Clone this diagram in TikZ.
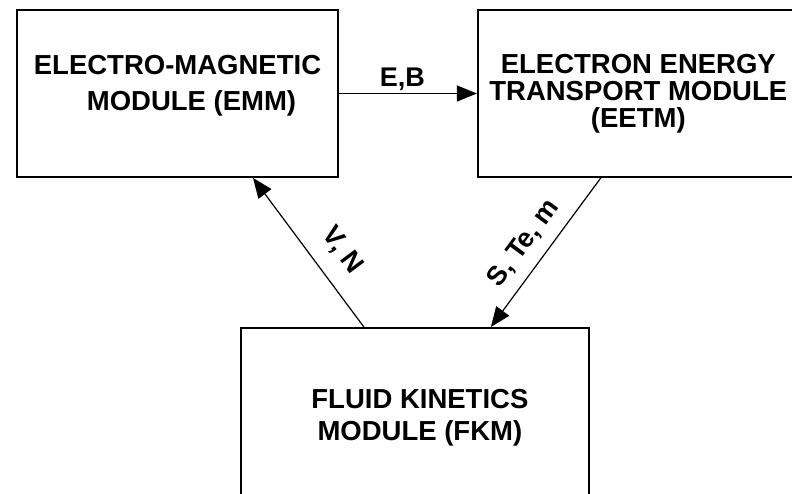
\documentclass[tikz,border=0pt]{standalone}
\usepackage{fontspec}
\setmainfont{Liberation Sans}
\usetikzlibrary{arrows.meta, positioning}

\begin{document}
\begin{tikzpicture}[
    x=1pt, y=-1pt,
    box/.style={rectangle, draw=black, line width=1.8pt, minimum width=321pt, minimum height=167pt, inner sep=2pt, align=center},
    title/.style={align=center, font=\bfseries\fontsize{27.5}{#1}\selectfont},
    title/.default=27,
    flow/.style={font=\bfseries\fontsize{27}{27}\selectfont, inner sep=2pt},
    conn/.style={-{Triangle[length=20pt, width=16pt]}, line width=1.2pt}
]

    \useasboundingbox (0,0) rectangle (792,493);
    \clip (0,0) rectangle (792,493);

    % Electro-magnetic module
    \node[box] (emm) at (177.5,93.5) {};
    \node[title=36, inner sep=0pt] (emmtext) at ([yshift=8pt]emm.center) {ELECTRO-MAGNETIC\\\hspace*{28pt}MODULE (EMM)};

    % Electron energy transport module
    \node[box, title=27, right=138pt of emm] (eetm) {ELECTRON ENERGY\\TRANSPORT MODULE\\(EETM)};

    % Fluid kinetics module
    \node[box, title=32, minimum width=348pt, minimum height=180pt, anchor=north west] (fkm) at (240,327) {\hspace*{10pt}FLUID KINETICS\\\hspace*{10pt}MODULE (FKM)};

    % Connections
    \draw[conn] (emm) -- node[flow, above, pos=0.46] (eb) {E,B} (eetm);
    \draw[conn] ([xshift=-51pt]fkm.north) -- node[flow, sloped, above=14pt, pos=0.4] (vn) {V, N} ([xshift=75.5pt]emm.south);
    \draw[conn] ([xshift=-37.5pt]eetm.south) -- node[flow, sloped, above=9pt, pos=0.53] (stm) {S, Te, m} ([xshift=76pt]fkm.north);

\end{tikzpicture}
\end{document}
